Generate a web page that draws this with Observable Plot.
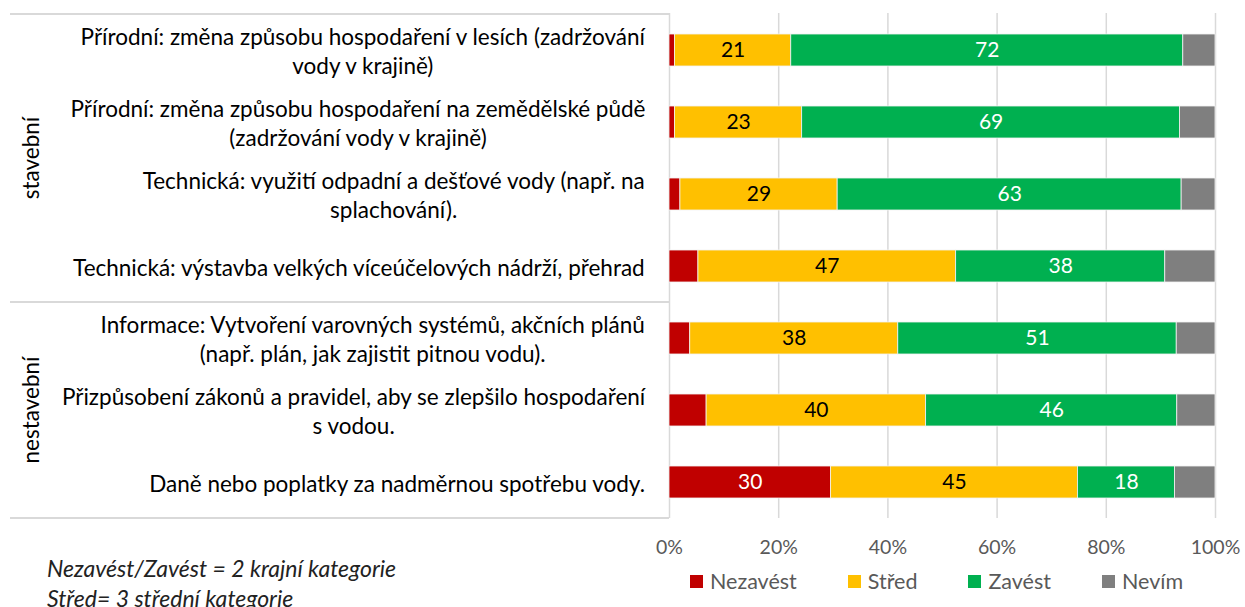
<!DOCTYPE html>
<html>
<head>
<meta charset="utf-8">
<script src="https://cdn.jsdelivr.net/npm/d3@7"></script>
<script src="https://cdn.jsdelivr.net/npm/@observablehq/plot@0.6"></script>
<style>
  body { margin: 0; background: #fff; }
  #wrap { position: relative; width: 1245px; height: 607px; overflow: hidden; font-family: Lato, "Open Sans", sans-serif; }
  #legend { position: absolute; left: 690px; top: 568px; display: flex; align-items: center; font-size: 21.5px; line-height: 26px; color: #595959; }
  #legend .item { display: flex; align-items: center; margin-right: 51px; }
  #legend .sw { width: 13px; height: 13px; margin-right: 7px; }
  #caption { position: absolute; left: 47px; top: 553px; font-style: italic; font-size: 23px; line-height: 30px; color: #222; }
</style>
</head>
<body>
<div id="wrap">
  <div id="chart"></div>
  <div id="legend"></div>
  <div id="caption"></div>
</div>
<script>
// ---- data ----
const categories = [
  "Přírodní: změna způsobu hospodaření v lesích (zadržování\nvody v krajině)",
  "Přírodní: změna způsobu hospodaření na zemědělské půdě\n(zadržování vody v krajině)",
  "Technická: využití odpadní a dešťové vody (např. na\nsplachování).",
  "Technická: výstavba velkých víceúčelových nádrží, přehrad",
  "Informace: Vytvoření varovných systémů, akčních plánů\n(např. plán, jak zajistit pitnou vodu).",
  "Přizpůsobení zákonů a pravidel, aby se zlepšilo hospodaření\ns vodou.",
  "Daně nebo poplatky za nadměrnou spotřebu vody."
];
const groups = ["stavební", "nestavební"];
const categoryGroup = [0, 0, 0, 0, 1, 1, 1];
const series = ["Nezavést", "Střed", "Zavést", "Nevím"];
const colors = ["#C00000", "#FFC000", "#00B050", "#7F7F7F"];
const nezavest = [1.0, 1.0, 2.0, 5.3, 3.8, 6.8, 29.6];
const stred    = [21.3, 23.3, 28.8, 47.2, 38.1, 40.2, 45.2];
const zavest   = [71.8, 69.2, 63.0, 38.3, 51.0, 46.0, 17.8];
const nevim    = [5.9, 6.5, 6.2, 9.2, 7.1, 7.0, 7.4];
const xTicks = [0, 20, 40, 60, 80, 100];
const captionLines = ["Nezavést/Zavést = 2 krajní kategorie", "Střed= 3 střední kategorie"];

// ---- long table ----
const seriesValues = [nezavest, stred, zavest, nevim];
const long = [];
categories.forEach((c, i) => {
  series.forEach((s, j) => long.push({cat: c, series: s, value: seriesValues[j][i]}));
});
const labelText = d => (d.series !== "Nevím" && d.value >= 10) ? String(Math.round(d.value)) : "";

const font = "Lato, 'Open Sans', sans-serif";
const catSize = 22.5;
const ctx = document.createElement("canvas").getContext("2d");
ctx.font = `${catSize}px Lato`;
const blockWidth = c => d3.max(c.split("\n"), l => ctx.measureText(l).width);

const categoryMarks = categories.map(c =>
  Plot.text([c], {y: d => d, text: d => d, frameAnchor: "left", textAnchor: "middle",
    dx: -24 - blockWidth(c) / 2, fontSize: catSize, lineHeight: 1.29, fill: "#000"})
);

const plot = Plot.plot({
  width: 1245,
  height: 560,
  marginLeft: 669,
  marginRight: 30,
  marginTop: 13,
  marginBottom: 42,
  style: {fontFamily: font, background: "white", overflow: "visible"},
  x: {domain: [0, 100]},
  y: {domain: categories, paddingInner: 0.56, paddingOuter: 0.28, axis: null},
  color: {domain: series, range: colors},
  marks: [
    Plot.gridX(xTicks, {stroke: "#D9D9D9", strokeOpacity: 1, strokeWidth: 1.5}),
    Plot.axisX(xTicks, {tickSize: 0, tickPadding: 22, fontSize: 19.5, fill: "#595959", tickFormat: d => d + "%", label: null}),
    Plot.barX(long, Plot.stackX({x: "value", y: "cat", z: "series", fill: "series", order: series, stroke: "#f2f2f2", strokeWidth: 0.8})),
    Plot.text(long, Plot.stackX({x: "value", y: "cat", z: "series", order: series,
      text: d => d.series === "Střed" ? labelText(d) : "", fill: "black", fontSize: 21})),
    Plot.text(long, Plot.stackX({x: "value", y: "cat", z: "series", order: series,
      text: d => d.series !== "Střed" ? labelText(d) : "", fill: "white", fontSize: 21})),
    ...categoryMarks
  ]
});
document.getElementById("chart").appendChild(plot);

// ---- table lines & group labels from scales ----
const ys = plot.scale("y");
const xs = plot.scale("x");
const gap = (ys.step - ys.bandwidth) / 2;
const x0 = xs.apply(0);
const svg = d3.select(plot);
const deco = svg.append("g");
const bounds = [];
groups.forEach((g, gi) => {
  const cats = categories.filter((c, i) => categoryGroup[i] === gi);
  const top = ys.apply(cats[0]) - gap;
  const bottom = ys.apply(cats[cats.length - 1]) + ys.bandwidth + gap;
  bounds.push(top, bottom);
  deco.append("text")
    .attr("transform", `translate(30,${(top + bottom) / 2}) rotate(-90)`)
    .attr("text-anchor", "middle").attr("dominant-baseline", "central")
    .attr("font-size", 22.5).attr("font-family", font).attr("fill", "#000")
    .text(g);
});
[...new Set(bounds.map(b => Math.round(b * 10) / 10))].forEach(b => {
  deco.append("line").attr("x1", 10).attr("x2", x0).attr("y1", b).attr("y2", b)
    .attr("stroke", "#D9D9D9").attr("stroke-width", 2);
});

// ---- legend ----
const legend = d3.select("#legend");
series.forEach((s, i) => {
  const it = legend.append("div").attr("class", "item");
  it.append("div").attr("class", "sw").style("background", colors[i]);
  it.append("span").text(s);
});
// ---- caption ----
d3.select("#caption").selectAll("div").data(captionLines).join("div").text(d => d);
</script>
</body>
</html>
